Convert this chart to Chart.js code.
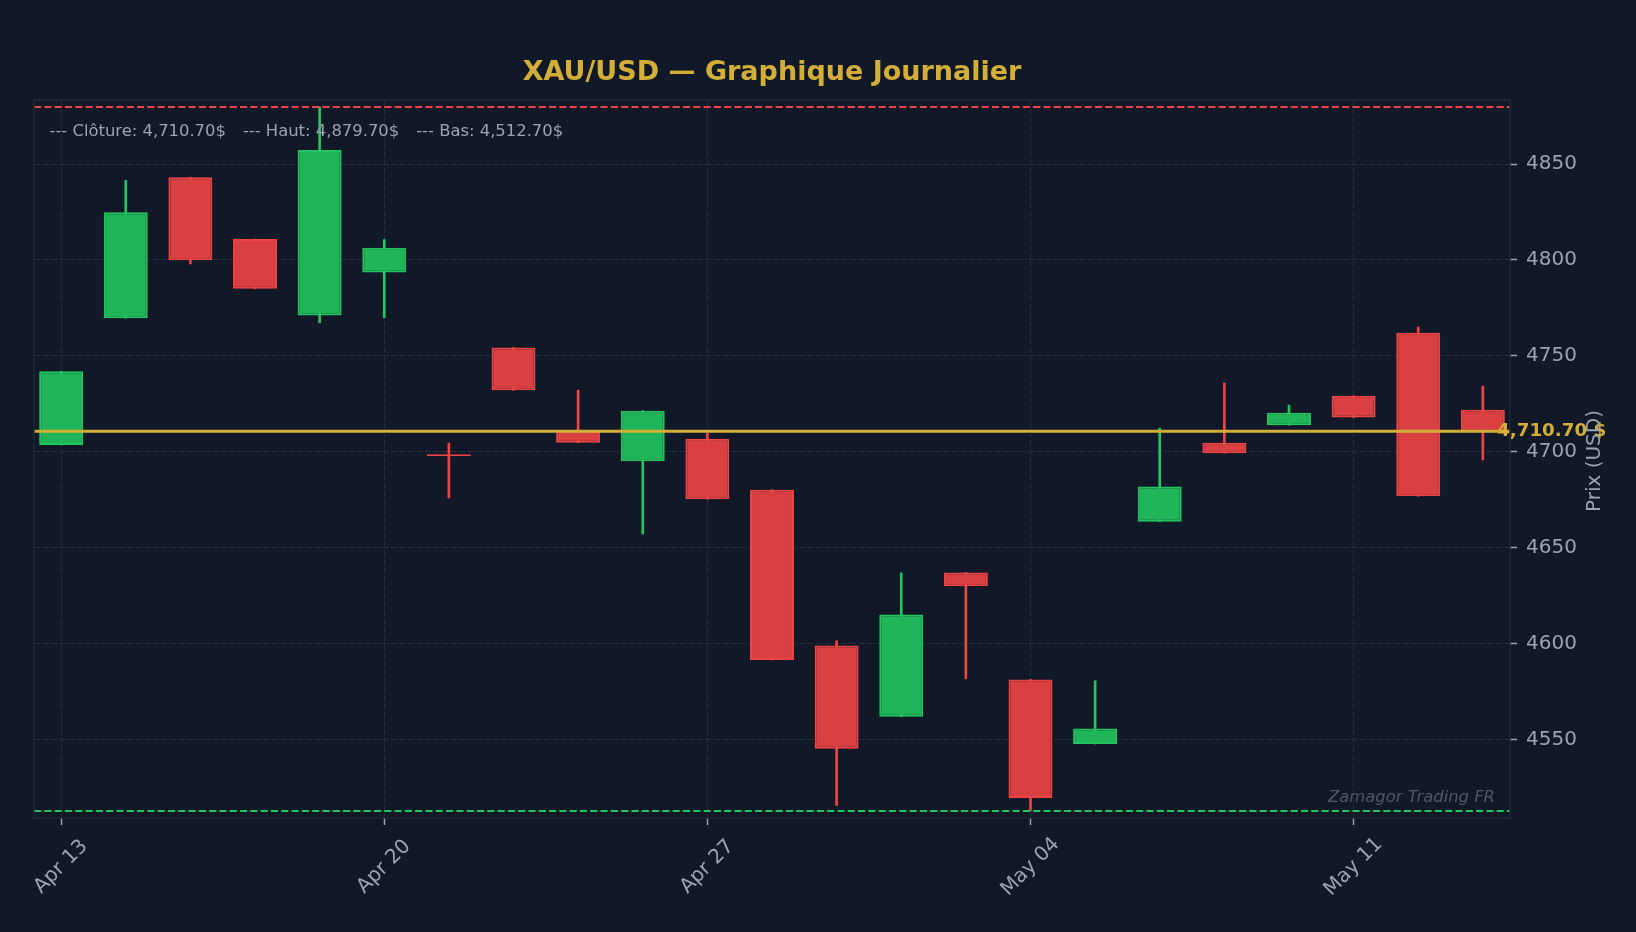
<!DOCTYPE html>
<html>
<head>
<meta charset="utf-8">
<title>XAU/USD — Graphique Journalier</title>
<script src="https://cdn.jsdelivr.net/npm/chart.js@4.4.1/dist/chart.umd.min.js"></script>
<style>
    html, body { margin: 0; padding: 0; background: #111827; }
    canvas { display: block; }
</style>
</head>
<body>
<canvas id="goldChart" width="1636" height="932"></canvas>
<script>
// Daily candles (weekdays only)
const dates = ['Apr 13', 'Apr 14', 'Apr 15', 'Apr 16', 'Apr 17',
               'Apr 20', 'Apr 21', 'Apr 22', 'Apr 23', 'Apr 24',
               'Apr 27', 'Apr 28', 'Apr 29', 'Apr 30', 'May 01',
               'May 04', 'May 05', 'May 06', 'May 07', 'May 08',
               'May 11', 'May 12', 'May 13'];
const opens  = [4703.5, 4769.6, 4843.1, 4810.9, 4771.0, 4793.4, 4698.0, 4754.3, 4711.3, 4695.0,
                4706.8, 4680.2, 4599.0, 4561.8, 4637.0, 4581.3, 4547.6, 4663.5, 4704.7, 4713.8,
                4729.2, 4762.0, 4721.9];
const highs  = [4742.0, 4841.5, 4843.1, 4810.9, 4879.7, 4810.6, 4704.5, 4754.3, 4732.1, 4721.4,
                4709.6, 4680.2, 4601.4, 4636.8, 4637.0, 4581.3, 4580.6, 4712.3, 4735.8, 4724.3,
                4729.2, 4765.0, 4734.2];
const lows   = [4703.5, 4769.6, 4797.9, 4784.9, 4767.2, 4769.8, 4675.9, 4732.0, 4704.7, 4657.1,
                4675.2, 4591.4, 4515.6, 4561.8, 4581.6, 4512.7, 4547.6, 4663.5, 4699.2, 4713.8,
                4717.9, 4676.8, 4695.7];
const closes = [4742.0, 4824.8, 4799.8, 4784.9, 4857.3, 4806.3, 4697.6, 4732.0, 4704.7, 4721.4,
                4675.2, 4591.4, 4545.1, 4615.1, 4629.9, 4519.5, 4555.7, 4681.8, 4699.2, 4720.3,
                4717.9, 4676.8, 4710.7];
const yStep = 50;
const xLabelEvery = 5;

const BG = '#111827';
const UP = '#22c55e', UP_FILL = '#21b559';
const DOWN = '#ef4444', DOWN_FILL = '#da4042';
const GOLD = '#d4af37';
const TEXT = '#9ca3af';
const GRID = '#252e3c';
const FRAME = '#1f2937';
const FONT = "'DejaVu Sans', 'Liberation Sans', sans-serif";

const lastClose = closes[closes.length - 1];
const topHigh = Math.max(...highs);
const bottomLow = Math.min(...lows);
const yPad = (topHigh - bottomLow) * 0.01;
const isUp = closes.map((c, i) => c >= opens[i]);

const fmt = v => v.toLocaleString('en-US', { minimumFractionDigits: 2, maximumFractionDigits: 2 });

const overlay = {
    id: 'overlay',
    beforeDraw(chart) {
        const ctx = chart.ctx;
        ctx.save();
        ctx.fillStyle = BG;
        ctx.fillRect(0, 0, chart.width, chart.height);
        ctx.restore();
    },
    afterDatasetsDraw(chart) {
        const { ctx, chartArea: a, scales: { y } } = chart;
        const hline = (value, color, width, dash) => {
            const py = y.getPixelForValue(value);
            ctx.save();
            ctx.strokeStyle = color;
            ctx.lineWidth = width;
            ctx.setLineDash(dash);
            ctx.beginPath();
            ctx.moveTo(a.left, py);
            ctx.lineTo(a.right, py);
            ctx.stroke();
            ctx.restore();
        };
        hline(topHigh, DOWN, 2, [7.2, 3.1]);
        hline(bottomLow, UP, 2, [7.2, 3.1]);
        hline(lastClose, GOLD, 3, []);

        // legend text, top left inside plot
        ctx.save();
        ctx.font = '16.4px ' + FONT;
        ctx.fillStyle = TEXT;
        ctx.textAlign = 'left';
        ctx.textBaseline = 'middle';
        const items = ['--- Clôture: ' + fmt(lastClose) + '$',
                       '--- Haut: ' + fmt(topHigh) + '$',
                       '--- Bas: ' + fmt(bottomLow) + '$'];
        let lx = a.left + 15.5;
        items.forEach(t => {
            ctx.fillText(t, lx, a.top + 32);
            lx += ctx.measureText(t).width + 17;
        });

        // watermark
        ctx.font = 'italic 16.4px ' + FONT;
        ctx.fillStyle = 'rgba(156, 163, 175, 0.45)';
        ctx.textAlign = 'right';
        ctx.fillText('Zamagor Trading FR', a.right - 15, a.bottom - 20);

        // frame
        ctx.strokeStyle = FRAME;
        ctx.lineWidth = 1.5;
        ctx.strokeRect(a.left, a.top, a.right - a.left, a.bottom - a.top);
        ctx.restore();
    },
    afterDraw(chart) {
        const { ctx, chartArea: a, scales: { x, y } } = chart;
        ctx.save();
        // last close label
        ctx.font = 'bold 18.3px ' + FONT;
        ctx.fillStyle = GOLD;
        ctx.textAlign = 'left';
        ctx.textBaseline = 'middle';
        ctx.fillText(fmt(lastClose) + ' $', a.right - 13, y.getPixelForValue(lastClose));

        // y axis title, reading bottom to top
        ctx.font = '20px ' + FONT;
        ctx.fillStyle = TEXT;
        ctx.translate(a.right + 85, (a.top + a.bottom) / 2 + 2);
        ctx.rotate(-Math.PI / 2);
        ctx.textAlign = 'center';
        ctx.fillText('Prix (USD)', 0, 0);
        ctx.restore();

        // rotated x tick labels, centred under their ticks
        ctx.save();
        ctx.font = '20px ' + FONT;
        ctx.fillStyle = TEXT;
        ctx.textAlign = 'center';
        ctx.textBaseline = 'alphabetic';
        x.ticks.forEach(t => {
            const label = dates[t.value];
            if (label === undefined) return;
            ctx.save();
            ctx.translate(x.getPixelForValue(t.value), a.bottom + 49);
            ctx.rotate(-Math.PI / 4);
            ctx.fillText(label, 0, 5);
            ctx.restore();
        });
        ctx.restore();
    }
};

const ctx = document.getElementById('goldChart').getContext('2d');
new Chart(ctx, {
    type: 'bar',
    data: {
        datasets: [{
            label: 'Corps',
            data: dates.map((d, i) => ({ x: i, y: [opens[i], closes[i]] })),
            backgroundColor: isUp.map(u => u ? UP_FILL : DOWN_FILL),
            borderColor: isUp.map(u => u ? UP : DOWN),
            borderWidth: 2,
            borderSkipped: false,
            grouped: false,
            categoryPercentage: 1,
            barPercentage: 0.68,
            minBarLength: 2,
            order: 0
        }, {
            label: 'Mèches',
            data: dates.map((d, i) => ({ x: i, y: [lows[i], highs[i]] })),
            backgroundColor: isUp.map(u => u ? UP : DOWN),
            borderWidth: 0,
            grouped: false,
            categoryPercentage: 1,
            barPercentage: 1,
            maxBarThickness: 2,
            order: 1
        }]
    },
    options: {
        responsive: false,
        devicePixelRatio: 1,
        animation: false,
        events: [],
        layout: { padding: { left: 34, right: 0, top: 0, bottom: 0 } },
        plugins: {
            legend: { display: false },
            tooltip: { enabled: false },
            title: {
                display: true,
                text: 'XAU/USD — Graphique Journalier',
                color: GOLD,
                fullSize: false,
                font: { family: FONT, size: 27, weight: 'bold' },
                padding: { top: 56.8, bottom: 10.8 }
            }
        },
        scales: {
            x: {
                type: 'linear',
                min: -0.42,
                max: 22.42,
                offset: false,
                ticks: { display: false, stepSize: xLabelEvery, includeBounds: false },
                grid: { offset: false, color: GRID, lineWidth: 1, tickLength: 7, tickColor: TEXT, tickWidth: 1.5 },
                border: { display: false, dash: [6, 2.5] },
                afterFit: s => { s.height = 114; }
            },
            y: {
                type: 'linear',
                position: 'right',
                beginAtZero: false,
                min: bottomLow - yPad,
                max: topHigh + yPad,
                ticks: {
                    stepSize: yStep,
                    includeBounds: false,
                    color: TEXT,
                    padding: 9,
                    font: { family: FONT, size: 20 },
                    callback: v => String(v)
                },
                grid: { color: GRID, lineWidth: 1, tickLength: 7, tickColor: TEXT, tickWidth: 1.5 },
                border: { display: false, dash: [6, 2.5] },
                afterFit: s => { s.width = 126; }
            }
        }
    },
    plugins: [overlay]
});
</script>
</body>
</html>
